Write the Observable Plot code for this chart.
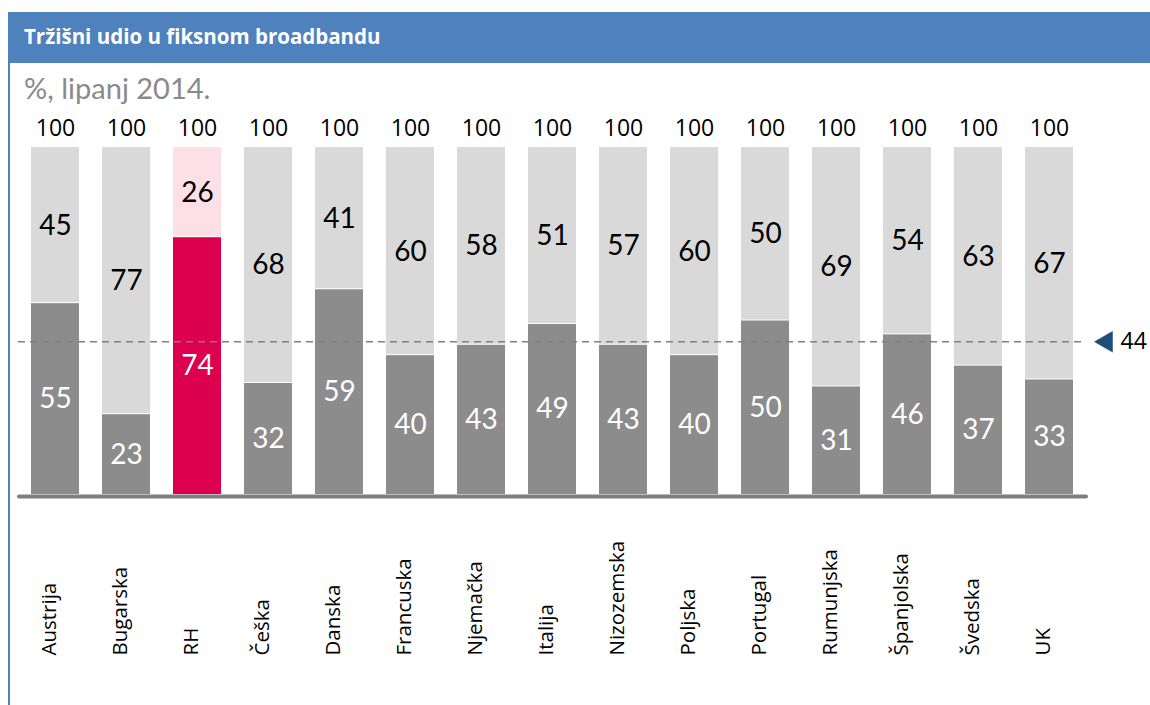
<!DOCTYPE html>
<html>
<head>
<meta charset="utf-8">
<script src="https://cdn.jsdelivr.net/npm/d3@7"></script>
<script src="https://cdn.jsdelivr.net/npm/@observablehq/plot@0.6"></script>
<style>
  html, body { margin: 0; padding: 0; background: #fff; }
  #wrap { position: relative; width: 1150px; height: 705px; overflow: hidden; background: #fff; }
  #titlebar { position: absolute; left: 8px; top: 12px; width: 1142px; height: 51px; background: #4f81bd; }
  #title { position: absolute; left: 16px; top: 0; line-height: 48px; color: #fff; font-family: 'Open Sans', sans-serif; font-weight: 700; font-size: 20.5px; }
  #leftline { position: absolute; left: 8px; top: 12px; width: 2px; height: 693px; background: #4f81bd; }
  #subtitle { position: absolute; left: 24px; top: 70px; color: #8a8a8a; font-family: 'Lato', sans-serif; font-size: 29px; line-height: 36px; }
  #chart { position: absolute; left: 0; top: 100px; }
</style>
</head>
<body>
<div id="wrap">
  <div id="titlebar"><div id="title">Tržišni udio u fiksnom broadbandu</div></div>
  <div id="leftline"></div>
  <div id="subtitle">%, lipanj 2014.</div>
  <div id="chart"></div>
</div>
<script>
const countries = ["Austrija","Bugarska","RH","Češka","Danska","Francuska","Njemačka","Italija","Nizozemska","Poljska","Portugal","Rumunjska","Španjolska","Švedska","UK"];
const incumbent = [55,23,74,32,59,40,43,49,43,40,50,31,46,37,33];
const others    = [45,77,26,68,41,60,58,51,57,60,50,69,54,63,67];
const totals    = [100,100,100,100,100,100,100,100,100,100,100,100,100,100,100];
const highlight = "RH";
const average = [44];

const data = countries.map((c, i) => ({
  country: c,
  dark: incumbent[i],
  light: others[i],
  total: totals[i],
  hl: c === highlight
}));

const chart = Plot.plot({
  width: 1150,
  height: 605,
  marginLeft: 7,
  marginRight: 53,
  marginTop: 47,
  marginBottom: 211,
  style: { fontFamily: "'Open Sans', sans-serif", background: "transparent", overflow: "visible" },
  x: { type: "band", domain: countries, padding: 0.325, axis: null },
  y: { domain: [0, 100], axis: null },
  color: { type: "identity" },
  marks: [
    Plot.barY(data, { x: "country", y1: "dark", y2: "total", fill: d => d.hl ? "#fde0e7" : "#d9d9d9", insetBottom: 1 }),
    Plot.barY(data, { x: "country", y1: 0, y2: "dark", fill: d => d.hl ? "#dc004e" : "#8c8c8c" }),
    Plot.ruleY([0], { stroke: "#7f7f7f", strokeWidth: 4, insetLeft: 12, insetRight: 11, dy: 2, strokeLinecap: "round" }),
    Plot.ruleY(average, { stroke: "#808080", strokeWidth: 1.5, strokeDasharray: "7,5", insetLeft: 11, insetRight: 12 }),
    Plot.text(data, { x: "country", y: "total", text: d => String(d.total), dy: -19, fontSize: 23, fill: "#000" }),
    Plot.text(data, { x: "country", y: d => d.dark / 2, text: d => String(d.dark), fontSize: 28, fill: "#fff", fontFamily: "'Lato', sans-serif" }),
    Plot.text(data, { x: "country", y: d => (d.dark + d.total) / 2, text: d => String(d.light), fontSize: 28, fill: "#000", fontFamily: "'Lato', sans-serif" }),
    Plot.text(data, { x: "country", frameAnchor: "bottom", text: "country", rotate: -90, textAnchor: "start", dy: 161, fontSize: 20.5, fill: "#000" }),
    Plot.dot(average, { y: d => d, frameAnchor: "right", dx: 9, symbol: "triangle", rotate: -90, r: 8, fill: "#1f4e79", stroke: "none" }),
    Plot.text(average, { y: d => d, frameAnchor: "right", dx: 23, text: d => String(d), textAnchor: "start", fontSize: 23, fill: "#000" })
  ]
});
document.getElementById("chart").appendChild(chart);
</script>
</body>
</html>
